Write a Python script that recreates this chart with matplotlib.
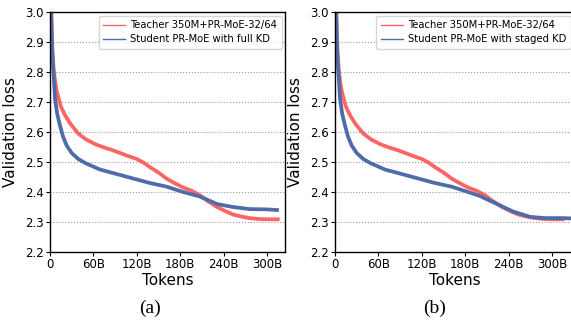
import matplotlib
matplotlib.use('Agg')
import matplotlib.pyplot as plt
from matplotlib.lines import Line2D

plt.rc('font', family='DejaVu Sans')

# Teacher 350M+PR-MoE-32/64 (same run in both panels)
teacher_tokens = [0.5, 1.5, 2.5, 3.5, 5, 7, 9, 11.5, 15, 21, 28, 39, 50, 62, 75, 86,
                  97, 108, 120, 130, 140, 150, 161, 172, 184, 195, 207, 218, 231,
                  242, 253, 265, 276, 288, 300, 315]
teacher_loss = [3.6, 3.05, 2.93, 2.87, 2.81, 2.77, 2.74, 2.715, 2.685, 2.655, 2.628, 2.595,
                2.575, 2.56, 2.548, 2.54, 2.53, 2.52, 2.51, 2.497, 2.48, 2.465, 2.445,
                2.43, 2.415, 2.405, 2.39, 2.37, 2.35, 2.337, 2.325, 2.318, 2.313, 2.31,
                2.309, 2.309]

# Student PR-MoE with full KD
full_tokens = [0.5, 1.5, 3, 4.5, 7, 10, 14, 18, 23, 30, 39, 50, 69, 92, 115, 138, 161,
               184, 207, 231, 253, 276, 300, 314]
full_loss = [3.35, 3.0, 2.87, 2.81, 2.71, 2.66, 2.62, 2.585, 2.555, 2.53, 2.51, 2.495,
             2.475, 2.46, 2.445, 2.43, 2.418, 2.4, 2.385, 2.36, 2.35, 2.343, 2.342, 2.34]

# Student PR-MoE with staged KD
staged_tokens = [0.5, 1.5, 3, 4.5, 7, 10, 14, 18, 23, 30, 39, 50, 69, 92, 115, 138, 161,
                 184, 200, 224, 246, 270, 290, 315, 326]
staged_loss = [3.35, 3.0, 2.87, 2.81, 2.71, 2.66, 2.62, 2.585, 2.555, 2.53, 2.51, 2.495,
               2.475, 2.46, 2.445, 2.43, 2.418, 2.4, 2.387, 2.36, 2.335, 2.317, 2.313,
               2.313, 2.312]

x_ticks = [0, 60, 120, 180, 240, 300]
x_ticklabels = ['0', '60B', '120B', '180B', '240B', '300B']
y_ticks = [2.2, 2.3, 2.4, 2.5, 2.6, 2.7, 2.8, 2.9, 3.0]

RED = '#ff6464'
BLUE = '#4f6ca8'

W, H = 571, 320
fig = plt.figure(figsize=(W / 100, H / 100), dpi=100)

panels = [
    (50, 235, 325, full_tokens, full_loss, 'Student PR-MoE with full KD', '(a)'),
    (335, 239, 330.4, staged_tokens, staged_loss, 'Student PR-MoE with staged KD', '(b)'),
]

for left_px, width_px, xmax, s_tok, s_loss, s_label, caption in panels:
    ax = fig.add_axes([left_px / W, (H - 252) / H, width_px / W, 240 / H])
    ax.plot(teacher_tokens, teacher_loss, color=RED, lw=2.7, solid_joinstyle='round')
    ax.plot(s_tok, s_loss, color=BLUE, lw=2.7, solid_joinstyle='round')
    ax.set_xlim(0, xmax)
    ax.set_ylim(2.2, 3.0)
    ax.set_xticks(x_ticks)
    ax.set_xticklabels(x_ticklabels)
    ax.set_yticks(y_ticks)
    ax.set_yticklabels(['%.1f' % v for v in y_ticks])
    ax.tick_params(labelsize=8.5, length=3, pad=1.5, width=0.8)
    ax.yaxis.grid(True, linestyle=':', color='#999999', lw=0.8)
    ax.set_axisbelow(True)
    for sp in ax.spines.values():
        sp.set_linewidth(1.0)
    ax.set_xlabel('Tokens', fontsize=11, labelpad=1)
    ax.set_ylabel('Validation loss', fontsize=11)
    ax.yaxis.set_label_coords(-32 / width_px, 0.5)

    handles = [Line2D([], [], color=RED, lw=1.0), Line2D([], [], color=BLUE, lw=1.0)]
    ax.legend(handles, ['Teacher 350M+PR-MoE-32/64', s_label], loc='upper right',
              fontsize=7.2, borderaxespad=0.35, handlelength=2.2, handletextpad=0.5,
              labelspacing=0.4, borderpad=0.45)

    fig.text((left_px + 100) / W, 1 - 308 / H, caption, ha='center', va='center',
             fontsize=14, family='Liberation Serif')

fig.savefig('out.png', dpi=100)
